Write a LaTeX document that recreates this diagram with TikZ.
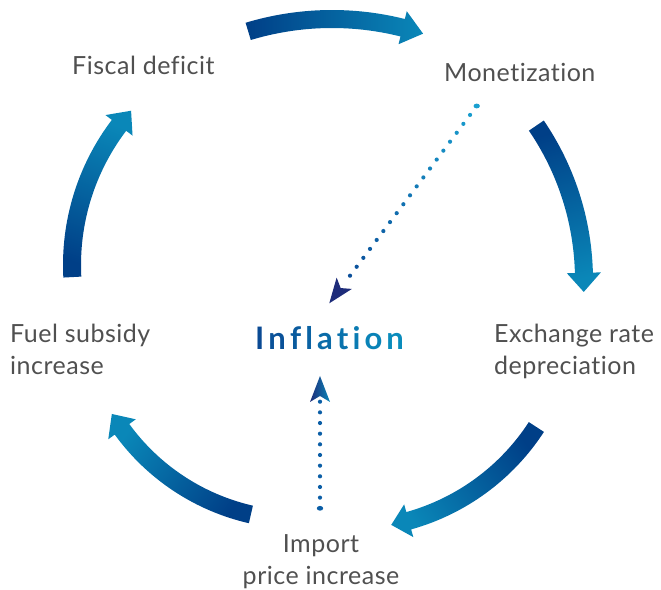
\documentclass[tikz,border=0pt]{standalone}
\usepackage{fontspec}
\setmainfont{Lato}[Ligatures=NoCommon]
\usetikzlibrary{calc}
\definecolor{cdark}{HTML}{003F87}
\definecolor{clight}{HTML}{0A87B8}
\definecolor{tgray}{HTML}{505050}
\definecolor{dlight}{HTML}{1AA0D0}
\definecolor{ddark}{HTML}{0B4F9A}
\definecolor{vdot}{HTML}{0B5EA6}
\definecolor{navy}{HTML}{1E2C7A}
\definecolor{infA}{HTML}{0A4A94}
\definecolor{infB}{HTML}{0A8CBC}
\newcommand{\gl}[2]{\textcolor{infB!#1!infA}{#2}\kern4.1pt}
% center x, center y, radius, tail angle, head-base angle, tip angle, shading angle
\newcommand{\cyclearrow}[7]{%
  \pgfmathsetmacro\ro{#3+9}\pgfmathsetmacro\ri{#3-9}%
  \pgfmathsetmacro\hro{#3+17}\pgfmathsetmacro\hri{#3-17}%
  \begin{scope}[shift={(#1,#2)}]
    \shade[left color=cdark,right color=clight,shading angle=#7]
      (#4:\ro) arc[start angle=#4,end angle=#5,radius=\ro]
      -- (#5:\hro) -- (#6:#3) -- (#5:\hri) -- (#5:\ri)
      arc[start angle=#5,end angle=#4,radius=\ri] -- cycle;
  \end{scope}}
\begin{document}
\begin{tikzpicture}[x=1pt,y=1pt,
  lbl/.style={font=\fontsize{25}{32}\selectfont\addfontfeature{LetterSpace=2}, text=tgray, inner sep=0pt, anchor=base west, align=left}]
\useasboundingbox (0,0) rectangle (661,589);

% labels (multi-line nodes: base = baseline of last line)
\node[lbl] (fiscal) at (72,514) {Fiscal deficit};
\node[lbl] (monet) at (444,507) {Monetization};
\node[lbl] (exch) at (494,214) {Exchange rate\\depreciation};
\node[lbl] (fuel) at (10,214) {Fuel subsidy\\increase};
\node[lbl, anchor=base, align=center] (import) at (321,5) {Import\\price increase};
\node[inner sep=0pt, anchor=base west, font=\fontsize{31}{31}\selectfont\bfseries] (infl) at (255,239)
  {\gl{0}{I}\gl{12}{n}\gl{25}{f}\gl{37}{l}\gl{50}{a}\gl{62}{t}\gl{75}{i}\gl{87}{o}\textcolor{infB}{n}};

% cycle arrows
\cyclearrow{332}{280}{290}{106.8}{75.9}{71.7}{90}
\cyclearrow{310}{309}{274}{34.3}{1.5}{-2.5}{16}
\cyclearrow{348.5}{284}{224}{-33}{-74.4}{-79}{305}
\cyclearrow{300}{289}{220}{-102.9}{-144}{-148.8}{233.7}
\cyclearrow{303}{324}{231}{183}{142.8}{138.1}{161}

% diagonal dotted arrow
\coordinate (dA) at (476.7,483);
\coordinate (dB) at (350,313.3);
\coordinate (dT) at (329.3,285.7);
\fill[dlight] (dA) ellipse[x radius=3.2, y radius=2.4];
\foreach \i in {1,...,19}{
  \pgfmathsetmacro\t{\i/19}
  \pgfmathsetmacro\p{100-100*\t}
  \fill[dlight!\p!ddark] ($(dA)!\t!(dB)$) circle[radius=2.1];
}
\begin{scope}[shift={(dT)},rotate=-126.7]
  \fill[navy] (0,0) -- (-25,9.5) -- (-19,0) -- (-25,-9.5) -- cycle;
\end{scope}

% vertical dotted arrow
\coordinate (vA) at (320,80.7);
\coordinate (vB) at (320,187.3);
\fill[vdot] (vA) ellipse[x radius=3.2, y radius=2.4];
\foreach \i in {1,...,10}{
  \pgfmathsetmacro\t{\i/10}
  \fill[vdot] ($(vA)!\t!(vB)$) circle[radius=2.1];
}
\shade[left color=navy,right color=clight] (320,213) -- (310,187) -- (320,193) -- (330,187) -- cycle;
\end{tikzpicture}
\end{document}
